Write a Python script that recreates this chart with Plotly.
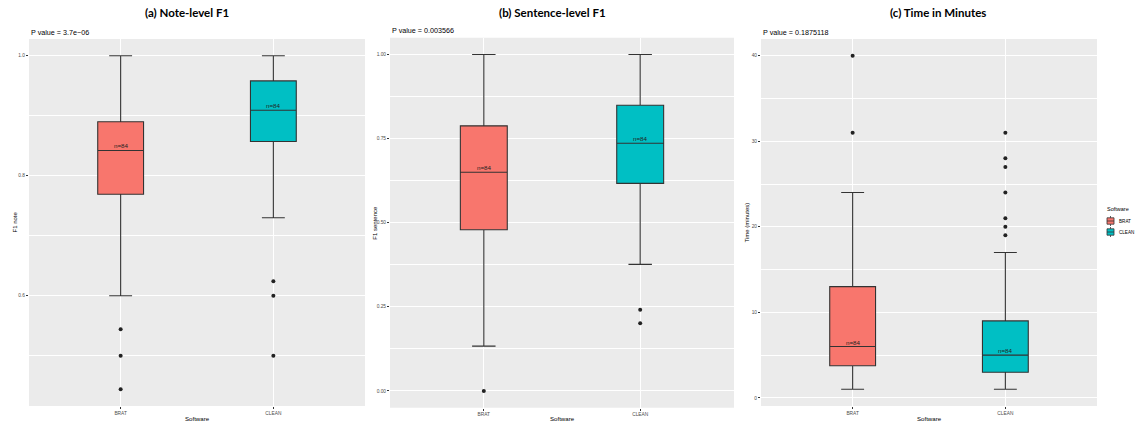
import plotly.graph_objects as go

W, H = 1135, 429

software = ["BRAT", "CLEAN"]
fill_colors = ["#F8766D", "#00BFC4"]
n_labels = ["n=84", "n=84"]

# (a) Note-level F1
note_q1 = [0.769, 0.857]
note_median = [0.842, 0.909]
note_q3 = [0.890, 0.958]
note_lower = [0.600, 0.730]
note_upper = [1.000, 1.000]
note_outliers = [[0.544, 0.500, 0.444], [0.624, 0.600, 0.500]]

# (b) Sentence-level F1
sent_q1 = [0.479, 0.617]
sent_median = [0.650, 0.736]
sent_q3 = [0.788, 0.849]
sent_lower = [0.133, 0.376]
sent_upper = [1.000, 1.000]
sent_outliers = [[0.000], [0.241, 0.201]]

# (c) Time in minutes
time_q1 = [3.75, 3.0]
time_median = [6.0, 5.0]
time_q3 = [13.0, 9.0]
time_lower = [1.0, 1.0]
time_upper = [24.0, 17.0]
time_outliers = [[40, 31], [31, 28, 27, 24, 21, 20, 19]]

titles = ["(a) Note-level F1", "(b) Sentence-level F1", "(c) Time in Minutes"]
p_values = ["P value = 3.7e\u221206", "P value = 0.003566", "P value = 0.1875118"]
y_titles = ["F1 note", "F1 sentence", "Time (minutes)"]

panels = [
    dict(q1=note_q1, med=note_median, q3=note_q3, lo=note_lower, hi=note_upper, out=note_outliers,
         px=(29, 365), py=(39, 406), yr=[0.4162, 1.0278], tick0=0.6, dtick=0.2, fmt=".1f"),
    dict(q1=sent_q1, med=sent_median, q3=sent_q3, lo=sent_lower, hi=sent_upper, out=sent_outliers,
         px=(390, 734), py=(37.7, 407.7), yr=[-0.05, 1.05], tick0=0, dtick=0.25, fmt=".2f"),
    dict(q1=time_q1, med=time_median, q3=time_q3, lo=time_lower, hi=time_upper, out=time_outliers,
         px=(761, 1097), py=(39, 406), yr=[-0.95, 41.95], tick0=0, dtick=10, fmt="d"),
]

fig = go.Figure()
annotations = []
shapes = []
layout = {}
DARK = "#333333"
TICKC = "#4D4D4D"

for k, p in enumerate(panels):
    sfx = "" if k == 0 else str(k + 1)
    xa, ya = "x" + sfx, "y" + sfx
    for i, name in enumerate(software):
        fig.add_trace(go.Box(
            x=[i + 1], q1=[p["q1"][i]], median=[p["med"][i]], q3=[p["q3"][i]],
            lowerfence=[p["lo"][i]], upperfence=[p["hi"][i]],
            width=0.3, fillcolor=fill_colors[i], line=dict(color=DARK, width=1.1),
            boxpoints=False, showlegend=False, name=name, xaxis=xa, yaxis=ya))
        fig.add_trace(go.Scatter(
            x=[i + 1] * len(p["out"][i]), y=p["out"][i], mode="markers",
            marker=dict(color="#222222", size=4), showlegend=False, xaxis=xa, yaxis=ya))
        annotations.append(dict(x=i + 1, y=p["med"][i], xref=xa, yref=ya, text=n_labels[i],
                                showarrow=False, yanchor="middle", yshift=4.5,
                                font=dict(size=6.2, color="#222222", family="Liberation Sans")))
    x0, x1 = p["px"][0] / W, p["px"][1] / W
    y0, y1 = 1 - p["py"][1] / H, 1 - p["py"][0] / H
    layout["xaxis" + sfx] = dict(
        domain=[x0, x1], anchor=ya, range=[0.4, 2.6], tickvals=[1, 2], ticktext=software,
        showgrid=True, gridcolor="white", gridwidth=1.1, zeroline=False,
        ticks="outside", ticklen=2, tickcolor=DARK, tickwidth=0.8,
        tickfont=dict(size=4.8, color=TICKC, family="Liberation Sans"), showline=False)
    layout["yaxis" + sfx] = dict(
        domain=[y0, y1], anchor=xa, range=p["yr"], tickmode="linear", tick0=p["tick0"],
        dtick=p["dtick"], tickformat=p["fmt"], showgrid=True, gridcolor="white", gridwidth=1.1,
        zeroline=False, ticks="outside", ticklen=2, tickcolor=DARK, tickwidth=0.8,
        tickfont=dict(size=4.8, color=TICKC, family="Liberation Sans"), showline=False,
        minor=dict(dtick=p["dtick"] / 2, tick0=p["tick0"], showgrid=True, gridcolor="white",
                   gridwidth=0.55, ticks=""))
    shapes.append(dict(type="rect", xref="paper", yref="paper", x0=x0, x1=x1, y0=y0, y1=y1,
                       fillcolor="#EBEBEB", line=dict(width=0), layer="below"))
    cx = (p["px"][0] + p["px"][1]) / 2
    title_x = [187, 552, 938][k]
    annotations.append(dict(x=title_x / W, y=1 - 12 / H, xref="paper", yref="paper",
                            text="<b>" + titles[k] + "</b>", showarrow=False,
                            xanchor="center", yanchor="middle",
                            font=dict(size=11.5, color="black", family="Lato")))
    annotations.append(dict(x=p["px"][0] / W, y=1 - (p["py"][0] - 7) / H, xref="paper", yref="paper",
                            text=p_values[k], showarrow=False, xanchor="left", yanchor="middle",
                            font=dict(size=7.2, color="black", family="Liberation Sans")))
    annotations.append(dict(x=cx / W, y=1 - 418.3 / H, xref="paper", yref="paper",
                            text="Software", showarrow=False, xanchor="center", yanchor="middle",
                            font=dict(size=6.1, color="black", family="Liberation Sans")))
    annotations.append(dict(x=(p["px"][0] - 15) / W, y=1 - ((p["py"][0] + p["py"][1]) / 2) / H,
                            xref="paper", yref="paper", text=y_titles[k], showarrow=False,
                            textangle=-90, xanchor="center", yanchor="middle",
                            font=dict(size=6.0, color="black", family="Liberation Sans")))

# legend (drawn manually, ggplot style)
annotations.append(dict(x=1105 / W, y=1 - 209 / H, xref="paper", yref="paper", text="Software",
                        showarrow=False, xanchor="left", yanchor="middle",
                        font=dict(size=5.5, color="black", family="Liberation Sans")))
for i, name in enumerate(software):
    cy = 221 + 11 * i
    gx0, gx1 = 1107, 1114
    shapes.append(dict(type="rect", xref="paper", yref="paper", x0=gx0 / W, x1=gx1 / W,
                       y0=1 - (cy + 3.2) / H, y1=1 - (cy - 3.2) / H, fillcolor=fill_colors[i],
                       line=dict(color=DARK, width=0.8)))
    shapes.append(dict(type="line", xref="paper", yref="paper", x0=gx0 / W, x1=gx1 / W,
                       y0=1 - cy / H, y1=1 - cy / H, line=dict(color=DARK, width=0.8)))
    for a, b in [(cy - 5, cy - 3.2), (cy + 3.2, cy + 5)]:
        shapes.append(dict(type="line", xref="paper", yref="paper", x0=(gx0 + gx1) / 2 / W,
                           x1=(gx0 + gx1) / 2 / W, y0=1 - a / H, y1=1 - b / H,
                           line=dict(color=DARK, width=0.8)))
    annotations.append(dict(x=1116.5 / W, y=1 - cy / H, xref="paper", yref="paper", text=name,
                            showarrow=False, xanchor="left", yanchor="middle",
                            font=dict(size=4.6, color="black", family="Liberation Sans")))

fig.update_layout(
    width=W, height=H, margin=dict(l=0, r=0, t=0, b=0),
    paper_bgcolor="white", plot_bgcolor="rgba(0,0,0,0)",
    showlegend=False, annotations=annotations, shapes=shapes, **layout)

fig.write_html("out.html", config={"displayModeBar": False},
               post_script="document.body.style.margin='0';document.body.style.overflow='hidden';")
